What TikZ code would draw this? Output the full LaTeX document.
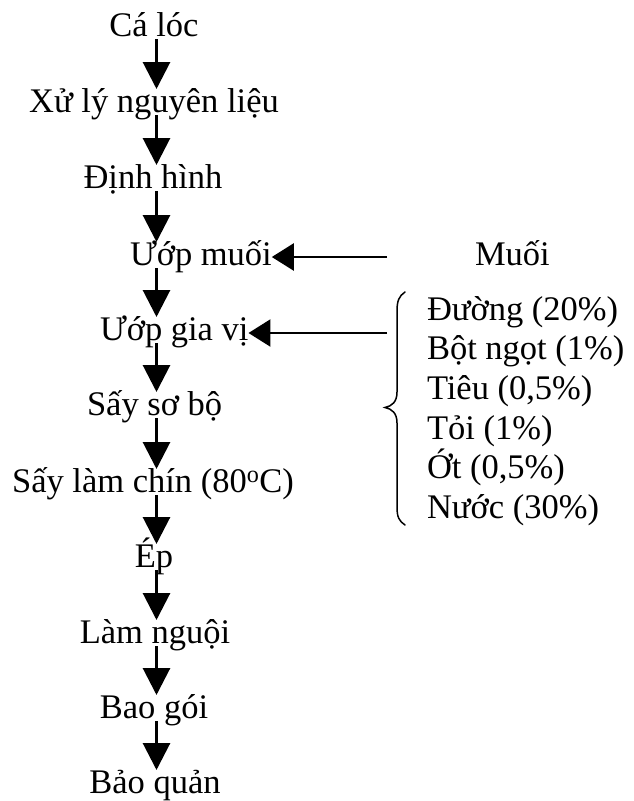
\documentclass[tikz,border=0pt]{standalone}
\usepackage{fontspec}
\setmainfont{Liberation Serif}
\usetikzlibrary{arrows.meta}
\begin{document}
\begin{tikzpicture}[x=1pt,y=-1pt,
 txt/.style={font=\fontsize{34.5pt}{40pt}\selectfont, inner sep=0pt, outer sep=0pt, text height=23pt, text depth=3pt},
 varr/.style={line width=3pt, -{Triangle[width=27pt,length=27pt]}},
 harr/.style={line width=2.5pt, -{Triangle[width=27pt,length=22pt]}},
 bracestyle/.style={line width=1.5pt, line cap=round}]
\useasboundingbox (0,0) rectangle (633,801);
\coordinate (col) at (156.5,0);
% main column
\node[txt, anchor=base] (s1) at (154,36) {Cá lóc};
\node[txt, anchor=base] (s2) at (154,112) {Xử lý nguyên liệu};
\node[txt, anchor=base] (s3) at (153,188) {Định hình};
\node[txt, anchor=base west] (s4) at (130,265) {Ướp muối};
\node[txt, anchor=base west] (s5) at (100,340) {Ướp gia vị};
\node[txt, anchor=base west] (s6) at (87,415) {Sấy sơ bộ};
\node[txt, anchor=base] (s7) at (153,492) {Sấy làm chín (80\textsuperscript{o}C)};
\node[txt, anchor=base] (s8) at (154,567) {Ép};
\node[txt, anchor=base] (s9) at (155,643) {Làm nguội};
\node[txt, anchor=base] (s10) at (154,718) {Bao gói};
\node[txt, anchor=base] (s11) at (155,793) {Bảo quản};
\foreach \a/\b in {s1/s2,s2/s3,s3/s4,s4/s5,s5/s6,s6/s7,s7/s8,s8/s9,s9/s10,s10/s11}
  \draw[varr] (\a.south -| col) -- (\b.north -| col);
% inputs
\node[txt, anchor=base west] (muoi) at (475,265) {Muối};
\coordinate (m1) at (387,257);
\coordinate (m2) at (387,333);
\draw[harr] (m1) -- (m1 -| s4.east);
\draw[harr] (m2) -- (m2 -| s5.east);
% spice list
\node[txt, anchor=base west] (l1) at (427,320) {Đường (20\%)};
\node[txt, anchor=base west] (l2) at (427,359.5) {Bột ngọt (1\%)};
\node[txt, anchor=base west] (l3) at (427,399) {Tiêu (0,5\%)};
\node[txt, anchor=base west] (l4) at (427,439) {Tỏi (1\%)};
\node[txt, anchor=base west] (l5) at (427,478.5) {Ớt (0,5\%)};
\node[txt, anchor=base west] (l6) at (427,518) {Nước (30\%)};
% brace
\draw[bracestyle] (405,292) .. controls (399,296) and (397,301) .. (397,311)
  -- (397,392) .. controls (397,402) and (392,406) .. (385,407.5)
  .. controls (392,409) and (397,413) .. (397,423)
  -- (397,507) .. controls (397,517) and (399,521) .. (405,525);
\end{tikzpicture}
\end{document}
